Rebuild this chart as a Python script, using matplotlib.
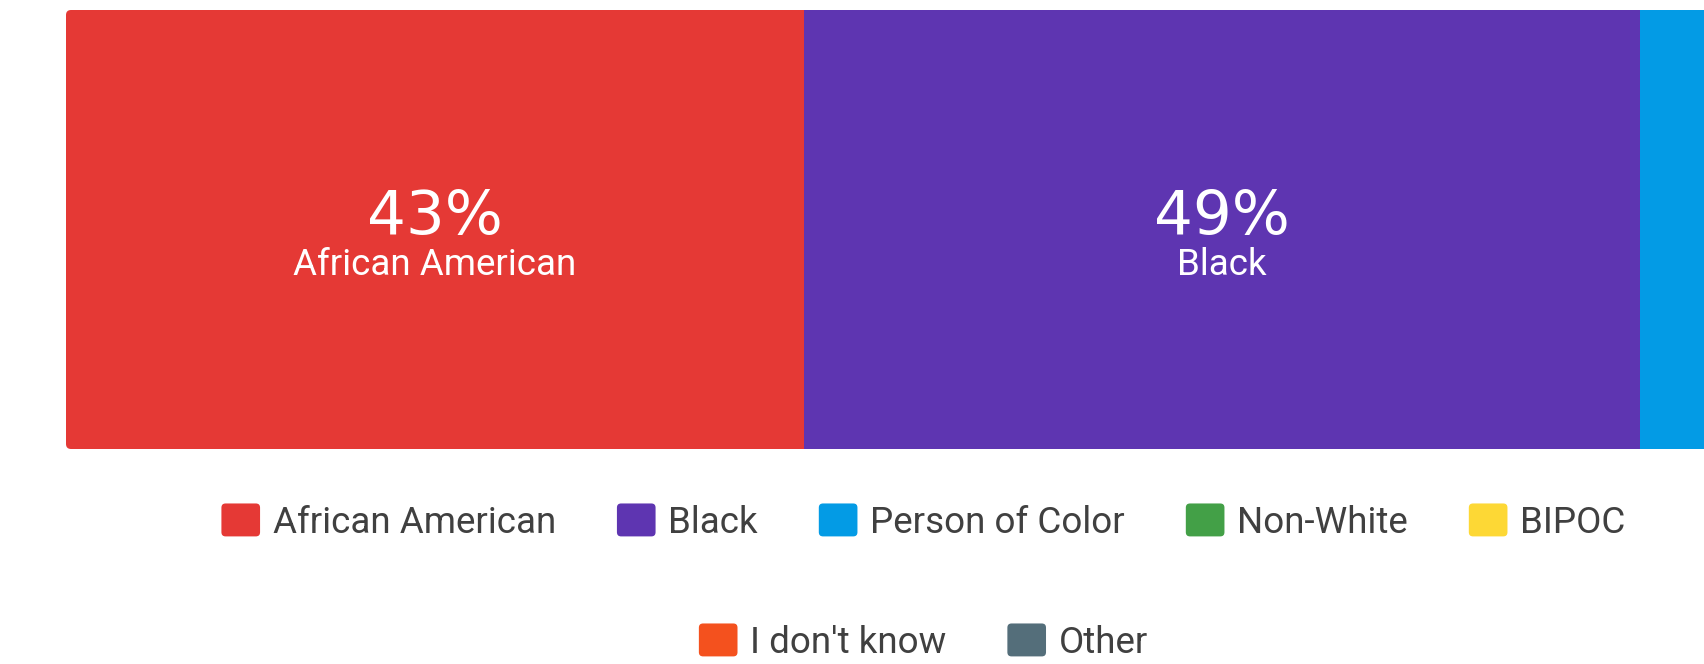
import matplotlib
matplotlib.use("Agg")

import numpy as np
import matplotlib.pyplot as plt
from matplotlib.patches import Patch, FancyBboxPatch
from matplotlib.legend_handler import HandlerPatch

# categories and shares (percent)
categories = ["African American", "Black", "Person of Color", "Non-White",
              "BIPOC", "I don't know", "Other"]
shares = [43.0, 48.7, 4.1, 2.0, 1.1, 1.1, 0.0]
colors = ["#E53935", "#5E35B1", "#039BE5", "#43A047",
          "#FDD835", "#F4511E", "#546E7A"]

plt.rcParams['font.family'] = ['Roboto', 'DejaVu Sans']

W, H = 1704, 664
fig = plt.figure(figsize=(W / 100, H / 100), dpi=100)

# the bar runs past the right edge of the picture
left_px, top_px, bot_px, full_px = 66, 10, 449, 1716
ax = fig.add_axes([left_px / W, 1 - bot_px / H, full_px / W, (bot_px - top_px) / H])

starts = np.concatenate([[0], np.cumsum(shares)[:-1]])
bars = ax.barh(0, shares, left=starts, height=1, color=colors, linewidth=0)
ax.set_xlim(0, 100)
ax.set_ylim(-0.5, 0.5)
ax.axis('off')

# rounded corners on the bar
r = 5
clip = FancyBboxPatch((0, 0), 1, 1, transform=ax.transAxes,
                      boxstyle="round,pad=0,rounding_size=%f" % (r / full_px),
                      mutation_aspect=full_px / (bot_px - top_px),
                      facecolor='none', edgecolor='none')
ax.add_patch(clip)
for b in bars:
    b.set_clip_path(clip)

# labels inside the big segments
for s, st, name in zip(shares, starts, categories):
    if s >= 10:
        ax.text(st + s / 2, 0.027, "%d%%" % round(s), color='white', fontsize=44,
                family=['DejaVu Sans'], ha='center', va='center')
        ax.text(st + s / 2, -0.08, name, color='white', fontsize=26.5,
                ha='center', va='center')


def rounded_square(legend, orig_handle, xdescent, ydescent, width, height, fontsize):
    return FancyBboxPatch((-xdescent, -ydescent), width, height,
                          boxstyle="round,pad=0,rounding_size=3")


handles = [Patch(facecolor=c, edgecolor='none', label=n) for c, n in zip(colors, categories)]
hmap = {Patch: HandlerPatch(patch_func=rounded_square)}
opts = dict(frameon=False, fontsize=26.5, handlelength=1.05, handleheight=1.0,
            handletextpad=0.35, columnspacing=1.65, labelcolor='#404040',
            handler_map=hmap, loc='center')

leg1 = fig.legend(handles[:5], categories[:5], ncol=5,
                  bbox_to_anchor=(0.542, 1 - 522 / H), **opts)
leg2 = fig.legend(handles[5:], categories[5:], ncol=2,
                  bbox_to_anchor=(0.542, 1 - 642 / H), **opts)

fig.savefig("out.png", dpi=100)
